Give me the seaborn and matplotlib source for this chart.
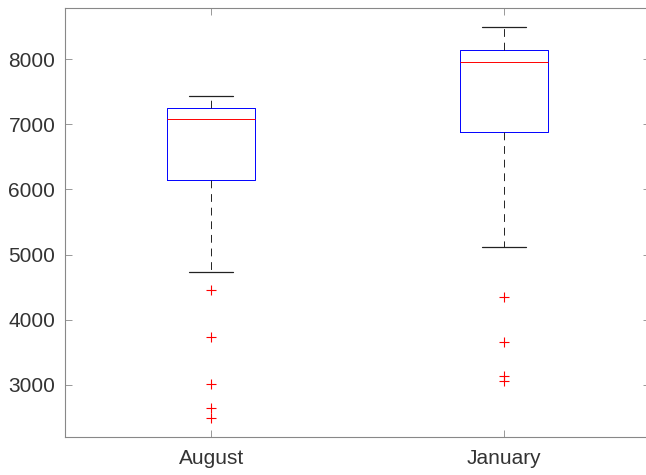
import pandas as pd
import seaborn as sns
from matplotlib import pyplot as plt

# sample values (outliers, whiskers, quartiles, median)
august = [2492, 2646, 3015, 3738, 4462, 4738, 6138, 6350, 6520, 6700, 6850, 6980,
          7077, 7110, 7150, 7180, 7210, 7230, 7246, 7280, 7310, 7350, 7380, 7410, 7431]
january = [3062, 3138, 3662, 4354, 5123, 6200, 6877, 7150, 7400, 7600, 7780, 7900,
           7954, 7990, 8030, 8060, 8090, 8115, 8138, 8200, 8270, 8340, 8400, 8450, 8492]
months = ["August", "January"]
yticks = [3000, 4000, 5000, 6000, 7000, 8000]

df = pd.DataFrame({
    "month": [months[0]] * len(august) + [months[1]] * len(january),
    "value": august + january,
})

sns.set_style("white")
plt.rcParams["font.family"] = ["Liberation Sans", "DejaVu Sans"]

fig = plt.figure(figsize=(6.46, 4.75), dpi=100)
ax = fig.add_axes([65 / 646, 38 / 475, 585 / 646, 429 / 475])

sns.boxplot(
    data=df, x="month", y="value", order=months, ax=ax,
    fill=False, width=0.3, whis=1.5,
    boxprops={"color": "#0000ff", "linewidth": 0.7},
    medianprops={"color": "#ff0000", "linewidth": 0.7},
    whiskerprops={"color": "#222222", "linewidth": 0.7, "linestyle": (0, (8, 6))},
    capprops={"color": "#222222", "linewidth": 0.9},
    flierprops={"marker": "+", "markeredgecolor": "#ff0000", "markersize": 7,
                "markeredgewidth": 0.8},
)

ax.set_xlim(-0.5, 1.5)
ax.set_ylim(2200, 8785)
ax.set_yticks(yticks)
ax.set_xlabel("")
ax.set_ylabel("")
for s in ax.spines.values():
    s.set_color("#888888")
    s.set_linewidth(0.8)
ax.tick_params(direction="in", length=5, width=0.6, color="#888888",
               labelsize=15, labelcolor="#333333",
               top=True, right=True, left=True, bottom=True)
ax.tick_params(axis="y", pad=7)
ax.tick_params(axis="x", pad=9)

fig.savefig("out.png", dpi=100)
